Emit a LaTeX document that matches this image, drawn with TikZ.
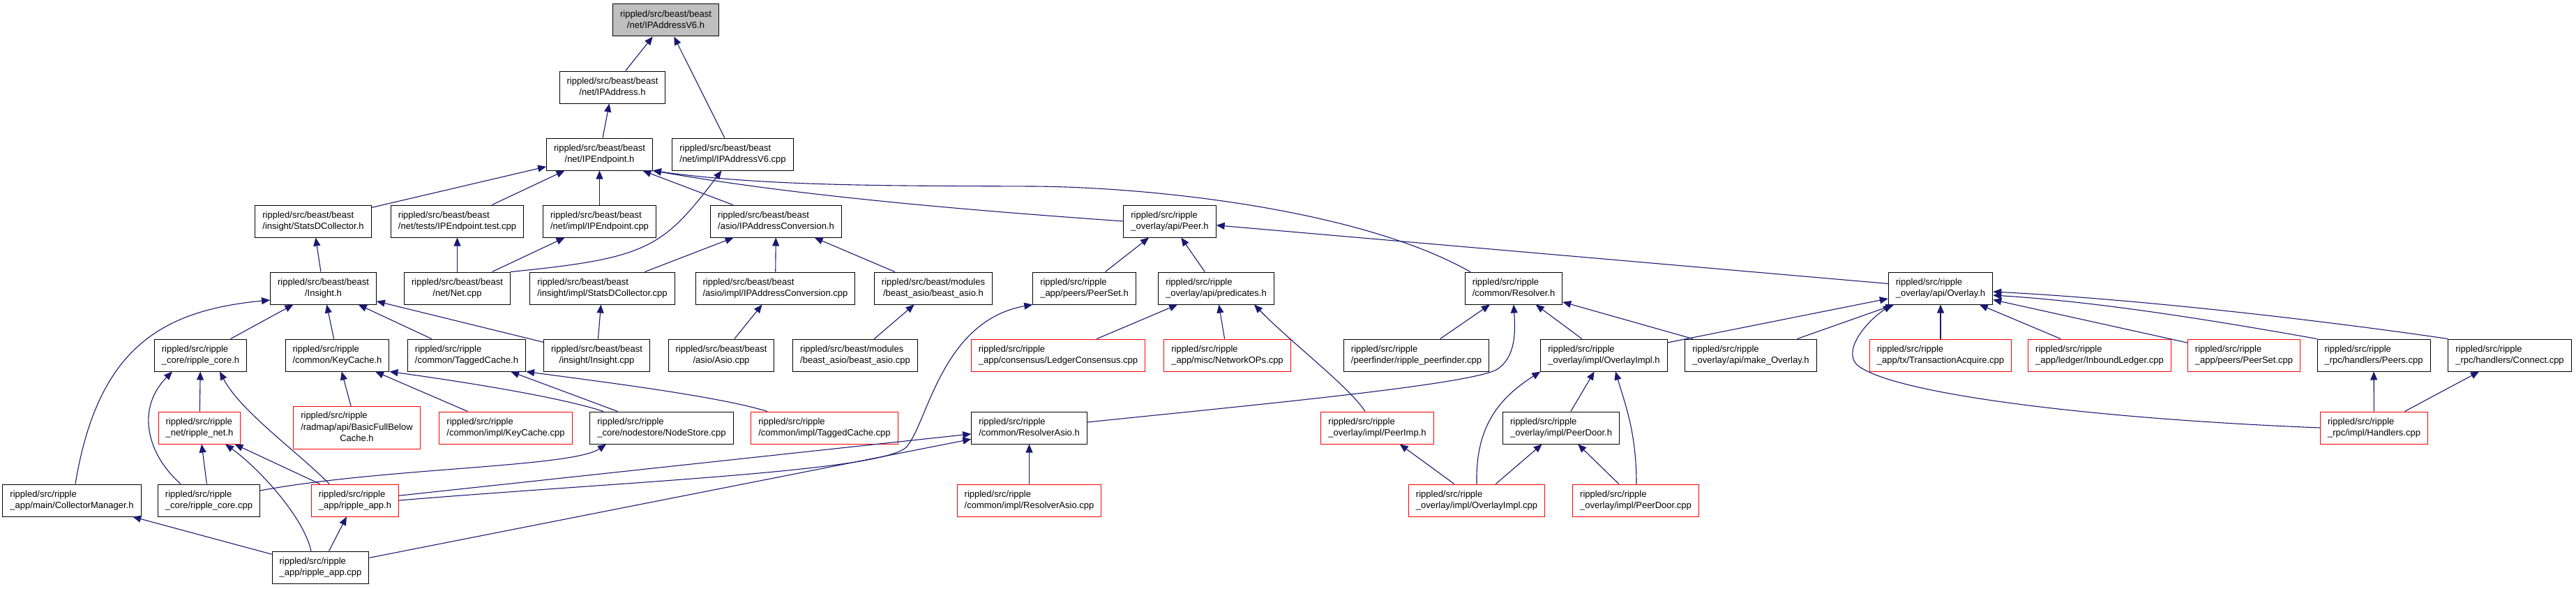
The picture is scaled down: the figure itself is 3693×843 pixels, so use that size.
\documentclass[tikz,border=0pt]{standalone}
\usepackage{fontspec}
\setmainfont{Liberation Sans}
\usepackage{tikz}
\usetikzlibrary{arrows.meta}
\usepackage{xcolor}
\definecolor{DoxBlue}{RGB}{25,25,112}
\definecolor{DoxRed}{RGB}{255,0,0}
\definecolor{DoxGray}{RGB}{191,191,191}
\newcommand{\fname}[2]{\begin{tabular}{@{}c@{}}\multicolumn{1}{@{}l@{}}{#1}\\#2\end{tabular}}

\begin{document}
\begin{tikzpicture}[x=1pt,y=-1pt,
  filebox/.style={draw=black,fill=white,line width=1pt,inner xsep=10.5pt,
                  inner ysep=6pt,minimum height=46pt,
                  font=\fontsize{13}{16.5}\selectfont},
  redbox/.style={filebox,draw=DoxRed},
  rootbox/.style={filebox,fill=DoxGray},
  arr/.style={-{Triangle[length=12pt,width=10pt]},line width=1.1pt,DoxBlue},
]
\useasboundingbox (0,0) rectangle (3693,843);
\node[rootbox] (ipv6h) at (954.5,29) {\fname{rippled/src/beast/beast}{/net/IPAddressV6.h}};
\node[filebox] (ipaddrh) at (878,125) {\fname{rippled/src/beast/beast}{/net/IPAddress.h}};
\node[filebox] (ipendh) at (859.5,221) {\fname{rippled/src/beast/beast}{/net/IPEndpoint.h}};
\node[filebox] (ipv6cpp) at (1050.5,221) {\fname{rippled/src/beast/beast}{/net/impl/IPAddressV6.cpp}};
\node[filebox] (statsdh) at (449,317) {\fname{rippled/src/beast/beast}{/insight/StatsDCollector.h}};
\node[filebox] (ipendtest) at (655.5,317) {\fname{rippled/src/beast/beast}{/net/tests/IPEndpoint.test.cpp}};
\node[filebox] (ipendcpp) at (859.5,317) {\fname{rippled/src/beast/beast}{/net/impl/IPEndpoint.cpp}};
\node[filebox] (ipconvh) at (1112.5,317) {\fname{rippled/src/beast/beast}{/asio/IPAddressConversion.h}};
\node[filebox] (peerh) at (1677,317) {\fname{rippled/src/ripple}{\_overlay/api/Peer.h}};
\node[filebox] (insighth) at (463.5,413) {\fname{rippled/src/beast/beast}{/Insight.h}};
\node[filebox] (netcpp) at (655.5,413) {\fname{rippled/src/beast/beast}{/net/Net.cpp}};
\node[filebox] (statsdcpp) at (863.5,413) {\fname{rippled/src/beast/beast}{/insight/impl/StatsDCollector.cpp}};
\node[filebox] (ipconvcpp) at (1111.5,413) {\fname{rippled/src/beast/beast}{/asio/impl/IPAddressConversion.cpp}};
\node[filebox] (beastasioh) at (1338,413) {\fname{rippled/src/beast/modules}{/beast\_asio/beast\_asio.h}};
\node[filebox] (peerseth) at (1554.5,413) {\fname{rippled/src/ripple}{\_app/peers/PeerSet.h}};
\node[filebox] (predh) at (1743.5,413) {\fname{rippled/src/ripple}{\_overlay/api/predicates.h}};
\node[filebox] (resolverh) at (2170,413) {\fname{rippled/src/ripple}{/common/Resolver.h}};
\node[filebox] (overlayh) at (2782,413) {\fname{rippled/src/ripple}{\_overlay/api/Overlay.h}};
\node[filebox] (ripplecoreh) at (287.5,509) {\fname{rippled/src/ripple}{\_core/ripple\_core.h}};
\node[filebox] (keycacheh) at (483.5,509) {\fname{rippled/src/ripple}{/common/KeyCache.h}};
\node[filebox] (taggedh) at (669,509) {\fname{rippled/src/ripple}{/common/TaggedCache.h}};
\node[filebox] (insightcpp) at (855.5,509) {\fname{rippled/src/beast/beast}{/insight/Insight.cpp}};
\node[filebox] (asiocpp) at (1034,509) {\fname{rippled/src/beast/beast}{/asio/Asio.cpp}};
\node[filebox] (beastasiocpp) at (1226,509) {\fname{rippled/src/beast/modules}{/beast\_asio/beast\_asio.cpp}};
\node[redbox] (ledgercons) at (1517,509) {\fname{rippled/src/ripple}{\_app/consensus/LedgerConsensus.cpp}};
\node[redbox] (netops) at (1759.5,509) {\fname{rippled/src/ripple}{\_app/misc/NetworkOPs.cpp}};
\node[filebox] (peerfinder) at (2030.5,509) {\fname{rippled/src/ripple}{/peerfinder/ripple\_peerfinder.cpp}};
\node[filebox] (overlayimplh) at (2299.5,509) {\fname{rippled/src/ripple}{\_overlay/impl/OverlayImpl.h}};
\node[filebox] (makeoverlay) at (2510,509) {\fname{rippled/src/ripple}{\_overlay/api/make\_Overlay.h}};
\node[redbox] (txacq) at (2782,509) {\fname{rippled/src/ripple}{\_app/tx/TransactionAcquire.cpp}};
\node[redbox] (inbound) at (3010,509) {\fname{rippled/src/ripple}{\_app/ledger/InboundLedger.cpp}};
\node[redbox] (peersetcpp) at (3217,509) {\fname{rippled/src/ripple}{\_app/peers/PeerSet.cpp}};
\node[filebox] (peerscpp) at (3403,509) {\fname{rippled/src/ripple}{\_rpc/handlers/Peers.cpp}};
\node[filebox] (connectcpp) at (3598,509) {\fname{rippled/src/ripple}{\_rpc/handlers/Connect.cpp}};
\node[redbox] (ripplenet) at (286,613) {\fname{rippled/src/ripple}{\_net/ripple\_net.h}};
\node[redbox] (bfbcache) at (511.5,613) {\begin{tabular}{@{}c@{}}\multicolumn{1}{@{}l@{}}{rippled/src/ripple}\\
  \multicolumn{1}{@{}l@{}}{/radmap/api/BasicFullBelow}\\Cache.h\end{tabular}};
\node[redbox] (keycachecpp) at (725,613) {\fname{rippled/src/ripple}{/common/impl/KeyCache.cpp}};
\node[filebox] (nodestore) at (948.5,613) {\fname{rippled/src/ripple}{\_core/nodestore/NodeStore.cpp}};
\node[redbox] (taggedcpp) at (1182,613) {\fname{rippled/src/ripple}{/common/impl/TaggedCache.cpp}};
\node[filebox] (resolverasioh) at (1475.5,613) {\fname{rippled/src/ripple}{/common/ResolverAsio.h}};
\node[redbox] (peerimph) at (1974.5,613) {\fname{rippled/src/ripple}{\_overlay/impl/PeerImp.h}};
\node[filebox] (peerdoorh) at (2238,613) {\fname{rippled/src/ripple}{\_overlay/impl/PeerDoor.h}};
\node[redbox] (handlers) at (3403.5,613) {\fname{rippled/src/ripple}{\_rpc/impl/Handlers.cpp}};
\node[filebox] (collmgr) at (103,717) {\fname{rippled/src/ripple}{\_app/main/CollectorManager.h}};
\node[filebox] (ripplecorecpp) at (299.5,717) {\fname{rippled/src/ripple}{\_core/ripple\_core.cpp}};
\node[redbox] (rippleapph) at (509,717) {\fname{rippled/src/ripple}{\_app/ripple\_app.h}};
\node[redbox] (resolverasiocpp) at (1475.5,717) {\fname{rippled/src/ripple}{/common/impl/ResolverAsio.cpp}};
\node[redbox] (overlayimplcpp) at (2117,717) {\fname{rippled/src/ripple}{\_overlay/impl/OverlayImpl.cpp}};
\node[redbox] (peerdoorcpp) at (2345,717) {\fname{rippled/src/ripple}{\_overlay/impl/PeerDoor.cpp}};
\node[filebox] (rippleappcpp) at (459.5,813) {\fname{rippled/src/ripple}{\_app/ripple\_app.cpp}};
\draw[arr] (ipaddrh) -- (ipv6h);
\draw[arr] (ipv6cpp) -- (ipv6h);
\draw[arr] (ipendh) -- (ipaddrh);
\draw[arr] (statsdh) -- (ipendh);
\draw[arr] (ipendtest) -- (ipendh);
\draw[arr] (ipendcpp) -- (ipendh);
\draw[arr] (ipconvh) -- (ipendh);
\draw[arr] (peerh.west) .. controls (1400,302) and (1150,282) .. (ipendh.south east);
\draw[arr] ([xshift=8pt]resolverh.north west) .. controls (1950,300) and (1650,268)
  .. (1480,267) .. controls (1300,266) and (1100,268) .. (ipendh.south east);
\draw[arr] (netcpp) -- (ipendcpp);
\draw[arr] (netcpp) -- (ipendtest);
\draw[arr] (netcpp.north east) .. controls (930,370) and (950,355) .. ([xshift=-16pt]ipv6cpp.south);
\draw[arr] (insighth) -- (statsdh);
\draw[arr] (statsdcpp) -- (ipconvh);
\draw[arr] (ipconvcpp) -- (ipconvh);
\draw[arr] (beastasioh) -- (ipconvh);
\draw[arr] (peerseth) -- (peerh);
\draw[arr] (predh) -- (peerh);
\draw[arr] (overlayh) -- (peerh);
\draw[arr] (ripplecoreh) -- (insighth);
\draw[arr] (keycacheh) -- (insighth);
\draw[arr] (taggedh) -- (insighth);
\draw[arr] (insightcpp) -- (insighth);
\draw[arr] ([xshift=5pt]collmgr.north) .. controls (140,500) and (230,445) .. ([yshift=-17pt]insighth.west);
\draw[arr] (insightcpp) -- (statsdcpp);
\draw[arr] (asiocpp) -- (ipconvcpp);
\draw[arr] (beastasiocpp) -- (beastasioh);
\draw[arr] (rippleapph.east) .. controls (900,690) and (1270,675)
  .. (1300,640) .. controls (1330,605) and (1350,460) .. (peerseth.south west);
\draw[arr] (rippleapph) -- (resolverasioh);
\draw[arr] (rippleappcpp) -- (resolverasioh);
\draw[arr] (ledgercons) -- (predh);
\draw[arr] (netops) -- (predh);
\draw[arr] ([xshift=-17.5pt]peerimph.north) .. controls (1935,555) and (1850,490) .. ([xshift=54.5pt]predh.south);
\draw[arr] (peerfinder) -- (resolverh);
\draw[arr] ([yshift=8pt]resolverasioh.east) .. controls (1800,580) and (2100,552)
  .. (2145,530) .. controls (2175,512) and (2172,470) .. (resolverh.south);
\draw[arr] (overlayimplh) -- (resolverh);
\draw[arr] (makeoverlay) -- (resolverh);
\draw[arr] (overlayimplcpp.north) .. controls (2115,610) and (2150,570) .. (overlayimplh.south west);
\draw[arr] (peerdoorh) -- (overlayimplh);
\draw[arr] ([xshift=1pt]peerdoorcpp.north) .. controls (2346,620) and (2330,580) .. ([xshift=16.5pt]overlayimplh.south);
\draw[arr] (overlayimplcpp) -- (peerimph);
\draw[arr] (overlayimplcpp) -- (peerdoorh);
\draw[arr] (peerdoorcpp) -- (peerdoorh);
\draw[arr] (resolverasiocpp) -- (resolverasioh);
\draw[arr] (overlayimplh) -- (overlayh);
\draw[arr] (makeoverlay) -- (overlayh);
\draw[arr] (txacq) -- (overlayh);
\draw[arr] (inbound) -- (overlayh);
\draw[arr] (peersetcpp) -- (overlayh);
\draw[arr] (peerscpp.north west) .. controls (3150,455) and (3000,432) .. ([yshift=-10pt]overlayh.east);
\draw[arr] (connectcpp.north west) .. controls (3300,455) and (3050,428) .. ([yshift=-5pt]overlayh.east);
\draw[arr] (handlers.west) .. controls (3000,600) and (2720,565)
  .. (2665,525) .. controls (2640,507) and (2670,465) .. ([xshift=5pt]overlayh.south west);
\draw[arr] (handlers) -- (peerscpp);
\draw[arr] (handlers) -- (connectcpp);
\draw[arr] (ripplenet) -- (ripplecoreh);
\draw[arr] ([xshift=-40.5pt]ripplecorecpp.north) .. controls (210,650) and (195,585) .. ([xshift=-40.5pt]ripplecoreh.south);
\draw[arr] ([xshift=-37pt]rippleapph.north) .. controls (430,650) and (345,590) .. ([xshift=27.5pt]ripplecoreh.south);
\draw[arr] (ripplecorecpp) -- (ripplenet);
\draw[arr] (rippleapph) -- (ripplenet);
\draw[arr] ([xshift=-13.5pt]rippleappcpp.north) .. controls (435,740) and (370,670) .. ([xshift=37pt]ripplenet.south);
\draw[arr] (bfbcache) -- (keycacheh);
\draw[arr] (keycachecpp) -- (keycacheh);
\draw[arr] ([xshift=-83.5pt]nodestore.north) .. controls (800,568) and (650,545) .. (keycacheh.south east);
\draw[arr] (nodestore) -- (taggedh);
\draw[arr] ([xshift=-82pt]taggedcpp.north) .. controls (1030,568) and (870,548) .. (taggedh.south east);
\draw[arr] ([yshift=14pt]ripplecorecpp.east) .. controls (550,670) and (820,670) .. ([xshift=-79.5pt]nodestore.south);
\draw[arr] (rippleappcpp) -- (collmgr);
\draw[arr] (rippleappcpp) -- (rippleapph);
\end{tikzpicture}
\end{document}
